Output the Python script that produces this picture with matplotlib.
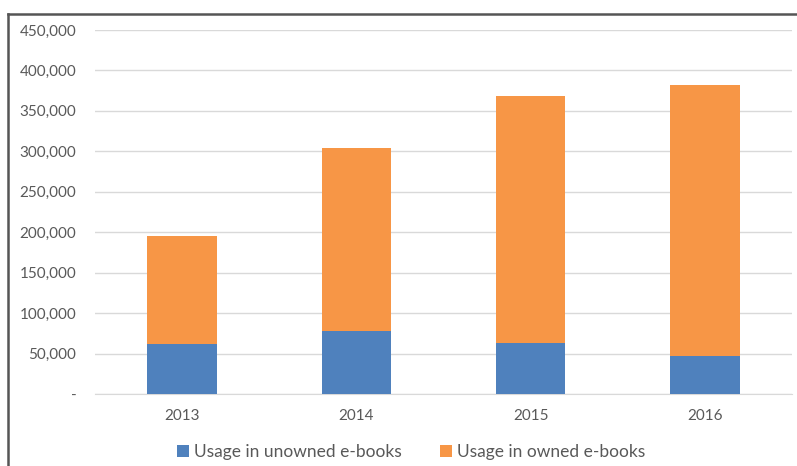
import matplotlib.pyplot as plt
from matplotlib.lines import Line2D
from matplotlib.ticker import FuncFormatter
plt.rcParams['font.family'] = ['Lato', 'DejaVu Sans']

years = ['2013', '2014', '2015', '2016']
unowned = [61400, 77900, 63400, 47000]
owned = [134300, 226200, 305400, 335000]

blue = '#4F81BD'
orange = '#F79646'
grey_txt = '#595959'

fig = plt.figure(figsize=(7.97, 4.66), dpi=100)
ax = fig.add_axes([95 / 797, 1 - 394 / 466, 697 / 797, 364 / 466])

x = range(len(years))
ax.bar(x, unowned, width=0.4, color=blue, label='Usage in unowned e-books', zorder=3)
ax.bar(x, owned, width=0.4, bottom=unowned, color=orange,
       label='Usage in owned e-books', zorder=3)

ax.set_xlim(-0.5, len(years) - 0.5)
ax.set_ylim(0, 450000)
ax.set_yticks(range(0, 450001, 50000))
ax.yaxis.set_major_formatter(FuncFormatter(lambda v, p: '-' if v == 0 else f'{int(v):,}'))
ax.set_xticks(list(x))
ax.set_xticklabels(years)

ax.grid(axis='y', color='#D9D9D9', linewidth=1, zorder=0)
for s in ['top', 'right', 'left']:
    ax.spines[s].set_visible(False)
ax.spines['bottom'].set_color('#D9D9D9')
ax.tick_params(axis='both', length=0, labelsize=11, colors=grey_txt)
ax.tick_params(axis='y', pad=13.5)
ax.tick_params(axis='x', pad=11)

fig.legend(loc='center', bbox_to_anchor=(411 / 797, 1 - 452 / 466), ncol=2,
           frameon=False, fontsize=12.5, labelcolor=grey_txt,
           handlelength=0.7, handleheight=0.7, handletextpad=0.3, columnspacing=2.2)

# outer frame (left and top edges of the chart box)
fig.add_artist(Line2D([8 / 797, 8 / 797], [0, 1 - 13.5 / 466], color='#555555',
                      linewidth=1.8, transform=fig.transFigure))
fig.add_artist(Line2D([8 / 797, 1], [1 - 13.5 / 466, 1 - 13.5 / 466], color='#555555',
                      linewidth=1.8, transform=fig.transFigure))

fig.savefig('out.png', dpi=100)
